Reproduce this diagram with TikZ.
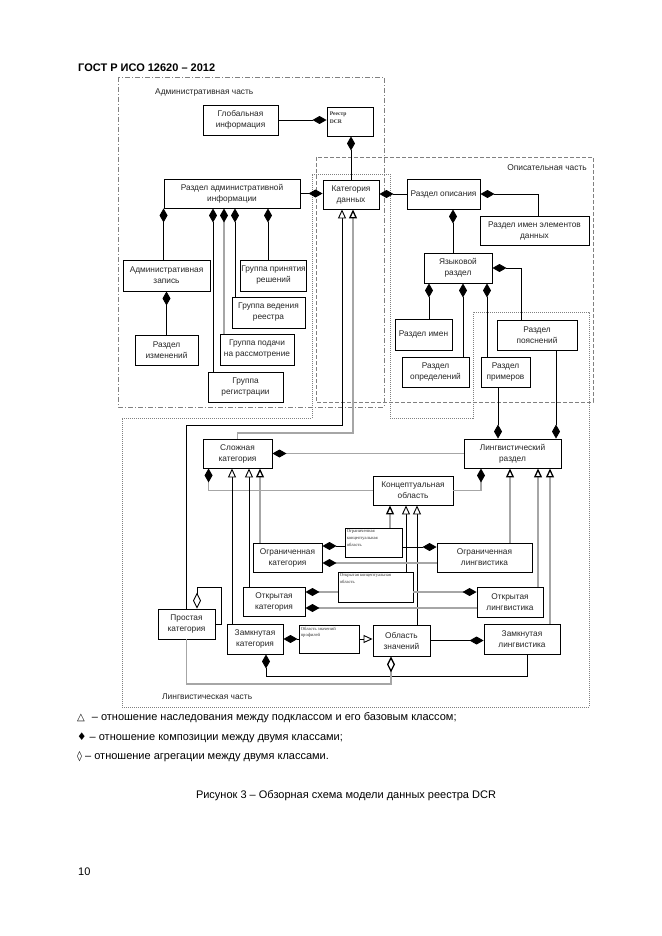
\documentclass[tikz,border=0pt]{standalone}
\usepackage{fontspec}
\setmainfont{Liberation Sans}
\newfontfamily\serifrm{Liberation Serif}
\newfontfamily\symfont{DejaVu Sans}
\usetikzlibrary{arrows.meta}
\usetikzlibrary{calc}
\tikzset{
    clsbox/.style = {rectangle, draw=black, line width=0.9pt, fill=white, align=center, inner sep=1pt, text=black!85, font=\fontsize{8.3}{11}\selectfont},
    tinytext/.style = {anchor=north west, inner sep=2pt, align=left, text=black!80, font=\serifrm\fontsize{4.6}{6.8}\selectfont},
    edgec/.style = {-{Diamond[color=black,length=14pt,width=8pt]}, line width=0.9pt},
    edgea/.style = {-{Diamond[color=black,fill=white,length=16pt,width=8pt]}, line width=0.9pt},
    edgei/.style = {-{Triangle[color=black,fill=white,length=9pt,width=8pt]}, line width=0.9pt},
    gry/.style = {draw=gray!70, line width=1.3pt},
    partadm/.style = {draw=gray, line width=0.6pt, dash pattern=on 5pt off 2pt on 1pt off 2pt},
    partopis/.style = {draw=gray, line width=0.6pt, dash pattern=on 4pt off 2pt},
    partling/.style = {draw=gray, line width=0.6pt, dash pattern=on 1pt off 1pt},
    parttext/.style = {inner sep=0pt, text=black!85, font=\fontsize{8.4}{10}\selectfont},
    pagetext/.style = {inner sep=0pt, anchor=west, font=\fontsize{11}{13}\selectfont}
}

\begin{document}
\begin{tikzpicture}[x=1pt, y=-1pt]
  \useasboundingbox (0,0) rectangle (661,936);
  \fill[white] (0,0) rectangle (661,936);

  % parts of the model
  \draw[partadm] (118,77) rectangle (384,407);
  \draw[partopis] (316,157) rectangle (593,402);
  \draw[partling] (122,418) -- (312,418) -- (312,174) -- (390,174) -- (390,418) -- (473,418)
     -- (473,312) -- (589,312) -- (589,707) -- (122,707) -- cycle;
  \node[parttext, anchor=west] (tadm) at (155,92) {Административная часть};
  \node[parttext, anchor=east] (topis) at (587,168) {Описательная часть};
  \node[parttext, anchor=west] (tling) at (162,697) {Лингвистическая часть};

  % administrative part
  \node[clsbox, minimum width=75pt, minimum height=30pt] (glob) at (240.5,120) {Глобальная\\информация};
  \node[clsbox, minimum width=46pt, minimum height=29pt,
        label={[tinytext, inner sep=3pt, yshift=-2.5pt, font=\serifrm\bfseries\fontsize{5.6}{8}\selectfont]north west:{Реестр\\DCR}}] (reg) at (350,121.5) {};
  \node[clsbox, minimum width=136pt, minimum height=29pt] (radm) at (232,193.5) {Раздел административной\\информации};
  \node[clsbox, minimum width=87pt, minimum height=31pt] (azap) at (166.5,275.5) {Административная\\запись};
  \node[clsbox, minimum width=63pt, minimum height=31pt] (gpr) at (273.5,275.5) {Группа принятия\\решений};
  \node[clsbox, minimum width=73pt, minimum height=31pt] (gved) at (268.5,312.5) {Группа ведения\\реестра};
  \node[clsbox, minimum width=63pt, minimum height=30pt] (rizm) at (166.5,350) {Раздел\\изменений};
  \node[clsbox, minimum width=74pt, minimum height=31pt] (gpod) at (257,349.5) {Группа подачи\\на рассмотрение};
  \node[clsbox, minimum width=75pt, minimum height=30pt] (greg) at (245.5,387) {Группа\\регистрации};

  % descriptive part
  \node[clsbox, minimum width=56pt, minimum height=29pt] (cat) at (351,194.5) {Категория\\данных};
  \node[clsbox, minimum width=73pt, minimum height=30pt] (rop) at (443.5,194) {Раздел описания};
  \node[clsbox, minimum width=109pt, minimum height=29pt] (rime) at (534.5,230.5) {Раздел имен элементов\\данных};
  \node[clsbox, minimum width=68pt, minimum height=30pt] (yaz) at (458,268) {Языковой\\раздел};
  \node[clsbox, minimum width=57pt, minimum height=31pt] (rimen) at (423.5,334.5) {Раздел имен};
  \node[clsbox, minimum width=67pt, minimum height=30pt] (ropr) at (435.5,372) {Раздел\\определений};
  \node[clsbox, minimum width=49pt, minimum height=30pt] (rprim) at (505.5,372) {Раздел\\примеров};
  \node[clsbox, minimum width=80pt, minimum height=30pt] (rpoy) at (537,335) {Раздел\\пояснений};

  % linguistic part
  \node[clsbox, minimum width=69pt, minimum height=29pt] (slo) at (237.5,453.5) {Сложная\\категория};
  \node[clsbox, minimum width=97pt, minimum height=29pt] (ling) at (512.5,453.5) {Лингвистический\\раздел};
  \node[clsbox, minimum width=80pt, minimum height=29pt] (konc) at (413,490.5) {Концептуальная\\область};
  \node[clsbox, minimum width=69pt, minimum height=29pt] (ogrk) at (287.5,557.5) {Ограниченная\\категория};
  \node[clsbox, minimum width=57pt, minimum height=29pt,
        label={[tinytext]north west:{Ограниченная\\концептуальная\\область}}] (ogrko) at (373.5,542.5) {};
  \node[clsbox, minimum width=95pt, minimum height=29pt] (ogrl) at (484.5,557.5) {Ограниченная\\лингвистика};
  \node[clsbox, minimum width=62pt, minimum height=29pt] (otk) at (274,601.5) {Открытая\\категория};
  \node[clsbox, minimum width=75pt, minimum height=30pt,
        label={[tinytext]north west:{Открытая концептуальная\\область}}] (otko) at (375.5,587) {};
  \node[clsbox, minimum width=66pt, minimum height=30pt] (otl) at (510,602) {Открытая\\лингвистика};
  \node[clsbox, minimum width=57pt, minimum height=30pt] (prost) at (186.5,624) {Простая\\категория};
  \node[clsbox, minimum width=56pt, minimum height=30pt] (zam) at (255,639) {Замкнутая\\категория};
  \node[clsbox, minimum width=60pt, minimum height=28pt,
        label={[tinytext]north west:{Область значений\\профилей}}] (ozp) at (329,639) {};
  \node[clsbox, minimum width=57pt, minimum height=31pt] (oz) at (401.5,640.5) {Область\\значений};
  \node[clsbox, minimum width=76pt, minimum height=30pt] (zaml) at (522,639) {Замкнутая\\лингвистика};

  % composition in the administrative part
  \draw[edgec] (glob.east) -- (glob.east -| reg.west);
  \draw[edgec] (cat.north) -- (cat.north |- reg.south);
  \draw[edgec] (radm.east) -- (radm.east -| cat.west);
  \draw[edgec] (azap.north -| radm.south west) -- (radm.south west);
  \draw[edgec] ($(greg.north -| radm.south)+(-19,0)$) -- ($(radm.south)+(-19,0)$);
  \draw[edgec,gry] ($(gpod.north -| radm.south)+(-8,0)$) -- ($(radm.south)+(-8,0)$);
  \draw[edgec] ($(gved.north -| radm.south)+(3,0)$) -- ($(radm.south)+(3,0)$);
  \draw[edgec] ($(gpr.north -| radm.south)+(36,0)$) -- ($(radm.south)+(36,0)$);
  \draw[edgec] (rizm.north) -- (rizm.north |- azap.south);

  % composition in the descriptive part
  \draw[edgec] (rop.west) -- (rop.west -| cat.east);
  \draw[edgec] ($(rime.north)+(3.5,0)$) |- (rop.east);
  \draw[edgec] ($(yaz.north)+(-5,0)$) -- ($(rop.south -| yaz.north)+(-5,0)$);
  \draw[edgec] ($(rpoy.north)+(-16,0)$) |- (yaz.east);
  \draw[edgec] ($(rimen.north -| yaz.south)+(-29,0)$) -- ($(yaz.south)+(-29,0)$);
  \draw[edgec] ($(ropr.north -| yaz.south)+(5,0)$) -- ($(yaz.south)+(5,0)$);
  \draw[edgec] ($(rprim.north -| yaz.south)+(29,0)$) -- ($(yaz.south)+(29,0)$);
  \draw[edgec] ($(rprim.south)+(-7.5,0)$) -- ($(ling.north -| rprim.south)+(-7.5,0)$);
  \draw[edgec] ($(rpoy.south)+(19,0)$) -- ($(ling.north -| rpoy.south)+(19,0)$);

  % kinds of data category
  \coordinate (bendp) at (342,425);
  \coordinate (bends) at (353,433);
  \draw[edgei] (prost.north) |- (bendp) -- (bendp |- cat.south);
  \draw[edgei,gry] (slo.north) |- (bends) -- (bends |- cat.south);
  \draw[edgec,gry] (ling.west) -- (slo.east);
  \draw[edgec,gry] (konc.west) -| ($(slo.south west)+(6,0)$);
  \draw[edgec,gry] (konc.east) -| ($(ling.south)+(-31.5,0)$);

  % inheritance
  \draw[edgei] ($(zam.north -| slo.south)+(-5.5,0)$) -- ($(slo.south)+(-5.5,0)$);
  \draw[edgei] ($(otk.north -| slo.south)+(11.5,0)$) -- ($(slo.south)+(11.5,0)$);
  \draw[edgei,gry] ($(ogrk.north -| slo.south)+(22.5,0)$) -- ($(slo.south)+(22.5,0)$);
  \draw[edgei,gry] ($(ogrko.north -| konc.south)+(-23,0)$) -- ($(konc.south)+(-23,0)$);
  \draw[edgei] ($(otko.north -| konc.south)+(-7,0)$) -- ($(konc.south)+(-7,0)$);
  \draw[edgei] ($(oz.north -| konc.south)+(4,0)$) -- ($(konc.south)+(4,0)$);
  \draw[edgei,gry] ($(ogrl.north -| ling.south)+(-2.5,0)$) -- ($(ling.south)+(-2.5,0)$);
  \draw[edgei,gry] ($(otl.north -| ling.south)+(25.5,0)$) -- ($(ling.south)+(25.5,0)$);
  \draw[edgei,gry] ($(zaml.north -| ling.south)+(37.5,0)$) -- ($(ling.south)+(37.5,0)$);

  % restricted, open and closed
  \draw[edgec] ($(ogrko.west |- ogrk.east)+(0,-11.5)$) -- ($(ogrk.east)+(0,-11.5)$);
  \draw[edgec,gry] ($(ogrl.west |- ogrk.east)+(0,5.5)$) -- ($(ogrk.east)+(0,5.5)$);
  \draw[edgec] ($(ogrko.east |- ogrl.west)+(0,-10.5)$) -- ($(ogrl.west)+(0,-10.5)$);
  \draw[edgec,gry] ($(otko.west |- otk.east)+(0,-9.5)$) -- ($(otk.east)+(0,-9.5)$);
  \draw[edgec,gry] ($(otl.west |- otk.east)+(0,6.5)$) -- ($(otk.east)+(0,6.5)$);
  \draw[edgec,gry] ($(otko.east |- otl.west)+(0,-10)$) -- ($(otl.west)+(0,-10)$);
  \draw[edgec] (ozp.west) -- (zam.east);
  \draw[edgei] (ozp.east) -- (ozp.east -| oz.west);
  \draw[edgec] (oz.east) -- (oz.east -| zaml.west);

  % closing loops
  \coordinate (bendz) at (266,676);
  \coordinate (bendo) at (391,684);
  \coordinate (bendl) at (221,587);
  \draw[edgec] ($(zaml.south)+(5,0)$) |- (bendz) -- (bendz |- zam.south);
  \draw[edgea,gry] (prost.south) |- (bendo) -- (bendo |- oz.south);
  \draw[edgea] (prost.east) -| (bendl) -| ($(prost.north)+(10.5,0)$);

  % page text
  \node[pagetext, font=\bfseries\fontsize{11}{13}\selectfont] (head) at (78,68) {ГОСТ Р ИСО 12620 – 2012};
  \node[pagetext] (leg1) at (77,718) {{\symfont\fontsize{10}{12}\selectfont △}\hspace{7pt}– отношение наследования между подклассом и его базовым классом;};
  \node[pagetext] (leg2) at (77,738) {{\symfont\fontsize{10.5}{12}\selectfont ♦} – отношение композиции между двумя классами;};
  \node[pagetext] (leg3) at (77,757) {{\symfont\fontsize{10}{12}\selectfont ◊} – отношение агрегации между двумя классами.};
  \node[pagetext, anchor=center] (capt) at (346,796) {Рисунок 3 – Обзорная схема модели данных реестра DCR};
  \node[pagetext] (pnum) at (78,872) {10};
\end{tikzpicture}
\end{document}
